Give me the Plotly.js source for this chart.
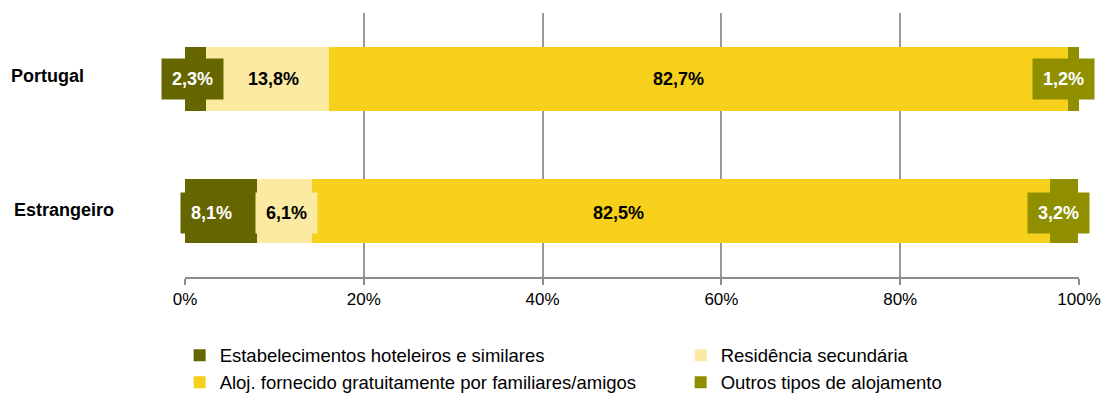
<!DOCTYPE html>
<html>
<head>
<meta charset="utf-8">
<script src="https://cdn.plot.ly/plotly-3.0.1.min.js"></script>
<style>html,body{margin:0;padding:0;background:#fff;}#chart{width:1105px;height:396px;}</style>
</head>
<body>
<div id="chart"></div>
<script>
const categories = ["Portugal", "Estrangeiro"];
const seriesNames = [
  "Estabelecimentos hoteleiros e similares",
  "Residência secundária",
  "Aloj. fornecido gratuitamente por familiares/amigos",
  "Outros tipos de alojamento"
];
const hoteleiros = [2.3, 8.1];
const residencia = [13.8, 6.1];
const familiares = [82.7, 82.5];
const outros = [1.2, 3.2];
const tickValues = [0, 20, 40, 60, 80, 100];
const tickLabels = ["0%", "20%", "40%", "60%", "80%", "100%"];

const seriesValues = [hoteleiros, residencia, familiares, outros];
const colors = ["#666600", "#FCEAA3", "#F6D01A", "#8F8F00"];
const labelColors = ["#ffffff", "#000000", "#000000", "#ffffff"];
// label nudges (px) per series per category, to mimic original placement
const labelShift = [[-3, -10], [6, 2], [-20, -62], [-10, -5]];

const traces = seriesValues.map((vals, i) => ({
  type: "bar",
  orientation: "h",
  name: seriesNames[i],
  y: categories,
  x: vals,
  width: 0.49,
  marker: {color: colors[i]},
  hoverinfo: "x+name"
}));

const fmt = v => v.toFixed(1).replace(".", ",") + "%";
const annotations = [];
categories.forEach((c, ci) => {
  let cum = 0;
  seriesValues.forEach((vals, si) => {
    const v = vals[ci];
    annotations.push({
      x: cum + v / 2, y: c, xref: "x", yref: "y",
      text: "<b>" + fmt(v) + "</b>",
      showarrow: false,
      font: {family: "Liberation Sans, Arial, sans-serif", size: 18, color: labelColors[si]},
      bgcolor: colors[si],
      borderpad: 10,
      xshift: labelShift[si][ci],
      yshift: ci === 1 ? -2 : 0
    });
    cum += v;
  });
});
// category labels
const catX = [9, 12];
categories.forEach((c, ci) => {
  annotations.push({
    x: 0, xref: "paper", y: c, yref: "y",
    xanchor: "left", xshift: -185 + catX[ci],
    yshift: ci === 0 ? 3 : 1,
    text: "<b>" + c + "</b>", showarrow: false,
    font: {family: "Liberation Sans, Arial, sans-serif", size: 18, color: "#000"}
  });
});

const layout = {
  width: 1105, height: 396,
  margin: {l: 185, r: 26, t: 13, b: 119, autoexpand: false},
  barmode: "stack",
  showlegend: true,
  paper_bgcolor: "#fff", plot_bgcolor: "#fff",
  font: {family: "Liberation Sans, Arial, sans-serif", size: 17, color: "#000"},
  xaxis: {
    range: [0, 100], tickvals: tickValues, ticktext: tickLabels,
    showgrid: true, gridcolor: "#9a9a9a", gridwidth: 2,
    showline: true, linecolor: "#8c8c8c", linewidth: 2,
    ticks: "outside", ticklen: 6, tickcolor: "#8c8c8c", tickwidth: 2,
    zeroline: false, fixedrange: true,
    tickfont: {size: 17}
  },
  yaxis: {
    autorange: "reversed", showticklabels: false, showgrid: false,
    zeroline: false, showline: false, fixedrange: true
  },
  legend: {
    orientation: "h", x: -0.006, xanchor: "left", y: -0.226, yanchor: "top",
    entrywidth: 456, entrywidthmode: "pixels",
    font: {size: 18.5, color: "#000"}, traceorder: "normal",
    itemwidth: 30, tracegroupgap: 0
  },
  annotations: annotations
};

Plotly.newPlot("chart", traces, layout, {displayModeBar: false, staticPlot: true});
</script>
</body>
</html>
